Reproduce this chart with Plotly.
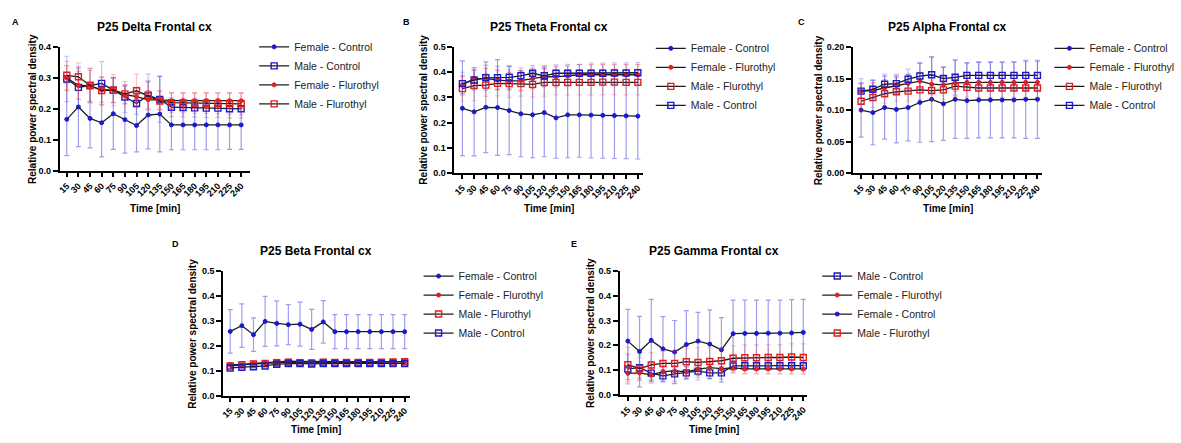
import plotly.graph_objects as go

W, H = 1181, 443

times = [15, 30, 45, 60, 75, 90, 105, 120, 135, 150, 165, 180, 195, 210, 225, 240]
tick_labels = [str(t) for t in times]

# ---- Panel A: Delta ----
A_fc = [0.167, 0.207, 0.170, 0.156, 0.185, 0.166, 0.147, 0.181, 0.184, 0.149, 0.149, 0.149, 0.149, 0.149, 0.149, 0.149]
A_fc_sd = [0.117, 0.128, 0.095, 0.110, 0.115, 0.108, 0.085, 0.109, 0.122, 0.080, 0.080, 0.080, 0.080, 0.080, 0.079, 0.079]
A_mc = [0.297, 0.270, 0.276, 0.283, 0.261, 0.239, 0.218, 0.245, 0.231, 0.206, 0.205, 0.204, 0.203, 0.203, 0.201, 0.201]
A_mc_sd = [0.073, 0.060, 0.055, 0.070, 0.040, 0.050, 0.035, 0.068, 0.074, 0.030, 0.030, 0.030, 0.030, 0.030, 0.030, 0.030]
A_ff = [0.300, 0.277, 0.275, 0.262, 0.262, 0.247, 0.240, 0.230, 0.230, 0.227, 0.227, 0.227, 0.227, 0.227, 0.227, 0.227]
A_ff_sd = [0.040, 0.045, 0.050, 0.040, 0.040, 0.030, 0.030, 0.030, 0.030, 0.025, 0.025, 0.025, 0.025, 0.025, 0.025, 0.025]
A_mf = [0.309, 0.304, 0.276, 0.260, 0.261, 0.249, 0.259, 0.242, 0.226, 0.221, 0.220, 0.219, 0.219, 0.218, 0.218, 0.217]
A_mf_sd = [0.045, 0.045, 0.055, 0.045, 0.050, 0.030, 0.054, 0.045, 0.030, 0.032, 0.032, 0.033, 0.033, 0.033, 0.034, 0.035]

# ---- Panel B: Theta ----
B_fc = [0.257, 0.243, 0.261, 0.260, 0.248, 0.235, 0.231, 0.240, 0.219, 0.231, 0.231, 0.230, 0.229, 0.228, 0.227, 0.226]
B_fc_sd = [0.188, 0.175, 0.180, 0.190, 0.175, 0.170, 0.170, 0.175, 0.160, 0.170, 0.168, 0.170, 0.170, 0.170, 0.170, 0.170]
B_ff = [0.350, 0.375, 0.375, 0.370, 0.365, 0.367, 0.375, 0.383, 0.382, 0.385, 0.390, 0.390, 0.390, 0.390, 0.390, 0.390]
B_ff_sd = [0.035, 0.035, 0.040, 0.040, 0.035, 0.040, 0.040, 0.040, 0.040, 0.040, 0.040, 0.040, 0.040, 0.040, 0.040, 0.040]
B_mf = [0.335, 0.347, 0.349, 0.356, 0.355, 0.355, 0.352, 0.360, 0.360, 0.360, 0.360, 0.360, 0.361, 0.361, 0.360, 0.360]
B_mf_sd = [0.050, 0.060, 0.045, 0.050, 0.055, 0.050, 0.050, 0.055, 0.050, 0.050, 0.050, 0.050, 0.050, 0.050, 0.050, 0.050]
B_mc = [0.355, 0.369, 0.378, 0.378, 0.380, 0.386, 0.396, 0.386, 0.396, 0.396, 0.396, 0.396, 0.396, 0.397, 0.397, 0.398]
B_mc_sd = [0.045, 0.040, 0.050, 0.045, 0.045, 0.030, 0.030, 0.040, 0.033, 0.035, 0.035, 0.040, 0.040, 0.040, 0.040, 0.040]

# ---- Panel C: Alpha ----
C_fc = [0.100, 0.096, 0.104, 0.101, 0.104, 0.112, 0.117, 0.110, 0.117, 0.115, 0.116, 0.116, 0.116, 0.116, 0.117, 0.117]
C_fc_sd = [0.043, 0.051, 0.050, 0.053, 0.053, 0.063, 0.067, 0.058, 0.062, 0.060, 0.060, 0.060, 0.060, 0.060, 0.062, 0.062]
C_ff = [0.130, 0.131, 0.135, 0.139, 0.142, 0.146, 0.141, 0.140, 0.143, 0.144, 0.144, 0.144, 0.144, 0.144, 0.144, 0.144]
C_ff_sd = [0.012, 0.012, 0.013, 0.012, 0.013, 0.014, 0.014, 0.013, 0.013, 0.013, 0.013, 0.013, 0.013, 0.013, 0.013, 0.013]
C_mf = [0.114, 0.120, 0.126, 0.129, 0.130, 0.132, 0.131, 0.132, 0.138, 0.136, 0.135, 0.135, 0.135, 0.135, 0.135, 0.135]
C_mf_sd = [0.015, 0.016, 0.015, 0.015, 0.016, 0.015, 0.016, 0.015, 0.016, 0.015, 0.015, 0.015, 0.015, 0.015, 0.015, 0.015]
C_mc = [0.130, 0.133, 0.141, 0.142, 0.149, 0.154, 0.156, 0.150, 0.152, 0.155, 0.155, 0.155, 0.155, 0.155, 0.155, 0.155]
C_mc_sd = [0.020, 0.015, 0.016, 0.015, 0.016, 0.020, 0.029, 0.018, 0.028, 0.020, 0.021, 0.021, 0.021, 0.022, 0.022, 0.022]

# ---- Panel D: Beta ----
D_fc = [0.258, 0.281, 0.245, 0.298, 0.290, 0.285, 0.287, 0.266, 0.296, 0.257, 0.257, 0.257, 0.257, 0.257, 0.257, 0.257]
D_fc_sd = [0.087, 0.087, 0.067, 0.100, 0.090, 0.080, 0.088, 0.080, 0.085, 0.068, 0.068, 0.068, 0.068, 0.068, 0.068, 0.068]
D_ff = [0.125, 0.125, 0.130, 0.133, 0.138, 0.139, 0.138, 0.137, 0.138, 0.137, 0.137, 0.137, 0.137, 0.137, 0.137, 0.137]
D_ff_sd = [0.008, 0.007, 0.008, 0.008, 0.008, 0.008, 0.008, 0.008, 0.008, 0.008, 0.008, 0.008, 0.008, 0.008, 0.008, 0.008]
D_mf = [0.120, 0.125, 0.128, 0.130, 0.133, 0.135, 0.133, 0.132, 0.135, 0.134, 0.134, 0.134, 0.134, 0.135, 0.136, 0.137]
D_mf_sd = [0.008, 0.008, 0.008, 0.008, 0.008, 0.008, 0.008, 0.008, 0.008, 0.008, 0.008, 0.008, 0.008, 0.008, 0.008, 0.008]
D_mc = [0.112, 0.115, 0.117, 0.120, 0.127, 0.130, 0.130, 0.128, 0.130, 0.130, 0.130, 0.130, 0.130, 0.130, 0.130, 0.130]
D_mc_sd = [0.007, 0.007, 0.007, 0.007, 0.007, 0.007, 0.007, 0.007, 0.007, 0.007, 0.007, 0.007, 0.007, 0.007, 0.007, 0.007]

# ---- Panel E: Gamma ----
E_mc = [0.105, 0.110, 0.088, 0.077, 0.085, 0.089, 0.096, 0.089, 0.089, 0.117, 0.118, 0.118, 0.118, 0.118, 0.118, 0.118]
E_mc_sd = [0.060, 0.050, 0.040, 0.025, 0.030, 0.025, 0.035, 0.025, 0.025, 0.020, 0.020, 0.020, 0.020, 0.020, 0.020, 0.020]
E_ff = [0.087, 0.089, 0.081, 0.094, 0.097, 0.093, 0.104, 0.110, 0.106, 0.109, 0.105, 0.105, 0.105, 0.105, 0.105, 0.105]
E_ff_sd = [0.025, 0.020, 0.020, 0.020, 0.020, 0.020, 0.025, 0.020, 0.020, 0.020, 0.020, 0.020, 0.020, 0.020, 0.020, 0.020]
E_fc = [0.217, 0.175, 0.220, 0.186, 0.173, 0.203, 0.217, 0.205, 0.182, 0.247, 0.248, 0.248, 0.249, 0.249, 0.250, 0.252]
E_fc_sd = [0.128, 0.142, 0.165, 0.130, 0.127, 0.137, 0.116, 0.138, 0.130, 0.135, 0.134, 0.134, 0.133, 0.133, 0.134, 0.133]
E_mf = [0.122, 0.106, 0.121, 0.127, 0.127, 0.134, 0.131, 0.135, 0.138, 0.148, 0.150, 0.150, 0.151, 0.151, 0.153, 0.151]
E_mf_sd = [0.070, 0.045, 0.050, 0.050, 0.050, 0.055, 0.060, 0.055, 0.050, 0.050, 0.052, 0.052, 0.052, 0.052, 0.053, 0.055]

BLUE = "#1a1acc"
RED = "#e01e1e"
FONT = "Arial, Liberation Sans, sans-serif"

STYLE = {
    "Female - Control": dict(symbol="circle", size=4, color=BLUE, lw=1, err="rgba(40,40,210,0.45)"),
    "Male - Control": dict(symbol="square-open", size=6, color=BLUE, lw=1.4, err="rgba(60,60,225,0.30)"),
    "Female - Flurothyl": dict(symbol="circle", size=4, color=RED, lw=1, err="rgba(230,40,40,0.40)"),
    "Male - Flurothyl": dict(symbol="square-open", size=6, color=RED, lw=1.4, err="rgba(240,70,70,0.30)"),
}


def px(x):
    return x / W


def py(y):
    return 1 - y / H


panels = [
    dict(key="", legend="legend", title="P25 Delta Frontal cx", letter="A",
         xd=(57, 248), yd=(43, 170), xr=(6, 251.6), yr=(0, 0.4), dtick=0.1, fmt=".1f",
         ytitle_x=29, xtitle_y=208, title_y=23, letter_xy=(13, 17),
         leg_xy=(252, 28),
         series=[("Female - Control", A_fc, A_fc_sd), ("Male - Control", A_mc, A_mc_sd),
                 ("Female - Flurothyl", A_ff, A_ff_sd), ("Male - Flurothyl", A_mf, A_mf_sd)]),
    dict(key="2", legend="legend2", title="P25 Theta Frontal cx", letter="B",
         xd=(453, 642), yd=(43, 172), xr=(4.8, 246.4), yr=(0, 0.5), dtick=0.1, fmt=".1f",
         ytitle_x=422, xtitle_y=208, title_y=23, letter_xy=(405, 17),
         leg_xy=(650, 29.5),
         series=[("Female - Control", B_fc, B_fc_sd), ("Female - Flurothyl", B_ff, B_ff_sd),
                 ("Male - Flurothyl", B_mf, B_mf_sd), ("Male - Control", B_mc, B_mc_sd)]),
    dict(key="3", legend="legend3", title="P25 Alpha Frontal cx", letter="C",
         xd=(853, 1043), yd=(43, 172), xr=(4.8, 246.4), yr=(0, 0.2), dtick=0.05, fmt=".2f",
         ytitle_x=818, xtitle_y=208, title_y=23, letter_xy=(801, 17),
         leg_xy=(1050, 29.5),
         series=[("Female - Control", C_fc, C_fc_sd), ("Female - Flurothyl", C_ff, C_ff_sd),
                 ("Male - Flurothyl", C_mf, C_mf_sd), ("Male - Control", C_mc, C_mc_sd)]),
    dict(key="4", legend="legend4", title="P25 Beta Frontal cx", letter="D",
         xd=(221, 408), yd=(272, 400), xr=(6, 246.4), yr=(0, 0.5), dtick=0.1, fmt=".1f",
         ytitle_x=190, xtitle_y=434, title_y=252, letter_xy=(173, 245),
         leg_xy=(417, 262.5),
         series=[("Female - Control", D_fc, D_fc_sd), ("Female - Flurothyl", D_ff, D_ff_sd),
                 ("Male - Flurothyl", D_mf, D_mf_sd), ("Male - Control", D_mc, D_mc_sd)]),
    dict(key="5", legend="legend5", title="P25 Gamma Frontal cx", letter="E",
         xd=(619, 807), yd=(272, 399), xr=(4.8, 245.1), yr=(0, 0.5), dtick=0.1, fmt=".1f",
         ytitle_x=590, xtitle_y=434, title_y=252, letter_xy=(573, 245),
         leg_xy=(817, 262.5),
         series=[("Male - Control", E_mc, E_mc_sd), ("Female - Flurothyl", E_ff, E_ff_sd),
                 ("Female - Control", E_fc, E_fc_sd), ("Male - Flurothyl", E_mf, E_mf_sd)]),
]

fig = go.Figure()
annotations = []
layout_axes = {}

for p in panels:
    k = p["key"]
    xa = "x" + k
    ya = "y" + k
    for name, vals, sd in p["series"]:
        st = STYLE[name]
        fig.add_trace(go.Scatter(
            x=times, y=vals, name=name, mode="lines+markers",
            xaxis=xa, yaxis=ya, legend=p["legend"],
            line=dict(color="#1c1c1c", width=1.3),
            marker=dict(symbol=st["symbol"], size=st["size"], color=st["color"],
                        line=dict(color=st["color"], width=st["lw"])),
            error_y=dict(type="data", array=sd, visible=True, color=st["err"],
                         thickness=1.2, width=2.5),
        ))
    axis_common = dict(showline=True, linecolor="black", linewidth=2, showgrid=False,
                       zeroline=False, ticks="outside", tickcolor="black", tickwidth=1.5,
                       tickfont=dict(family=FONT, size=9, color="black", weight="bold"))
    layout_axes["xaxis" + k] = dict(
        axis_common, domain=[px(p["xd"][0]), px(p["xd"][1])], range=list(p["xr"]),
        anchor=ya, tickmode="array", tickvals=times, ticktext=tick_labels,
        tickangle=-45, ticklen=4)
    layout_axes["yaxis" + k] = dict(
        axis_common, domain=[py(p["yd"][1]), py(p["yd"][0])], range=list(p["yr"]),
        anchor=xa, dtick=p["dtick"], tick0=0, tickformat=p["fmt"], ticklen=5)
    layout_axes[p["legend"]] = dict(
        x=px(p["leg_xy"][0]), y=py(p["leg_xy"][1]), xanchor="left", yanchor="top",
        font=dict(family=FONT, size=10.5, color="#222"), bgcolor="rgba(0,0,0,0)",
        itemwidth=30, tracegroupgap=0)
    xc = (p["xd"][0] + p["xd"][1]) / 2
    yc = (p["yd"][0] + p["yd"][1]) / 2
    annotations += [
        dict(text="<b>%s</b>" % p["title"], x=px(xc), y=py(p["title_y"]), xref="paper", yref="paper",
             showarrow=False, xanchor="center", yanchor="middle",
             font=dict(family=FONT, size=12, color="black")),
        dict(text="<b>%s</b>" % p["letter"], x=px(p["letter_xy"][0]), y=py(p["letter_xy"][1]),
             xref="paper", yref="paper", showarrow=False, xanchor="center", yanchor="middle",
             font=dict(family=FONT, size=9, color="black")),
        dict(text="<b>Time [min]</b>", x=px(xc), y=py(p["xtitle_y"]), xref="paper", yref="paper",
             showarrow=False, xanchor="center", yanchor="middle",
             font=dict(family=FONT, size=10, color="black")),
        dict(text="<b>Relative power spectral density</b>", x=px(p["ytitle_x"]), y=py(yc),
             xref="paper", yref="paper", showarrow=False, textangle=-90,
             xanchor="center", yanchor="middle",
             font=dict(family=FONT, size=10, color="black")),
    ]

fig.update_layout(
    width=W, height=H, margin=dict(l=0, r=0, t=0, b=0),
    paper_bgcolor="white", plot_bgcolor="white",
    font=dict(family=FONT), annotations=annotations, showlegend=True,
    **layout_axes,
)

fig.write_html("out.html", include_plotlyjs=True, config={"displayModeBar": False},
               post_script="document.body.style.margin='0';")
